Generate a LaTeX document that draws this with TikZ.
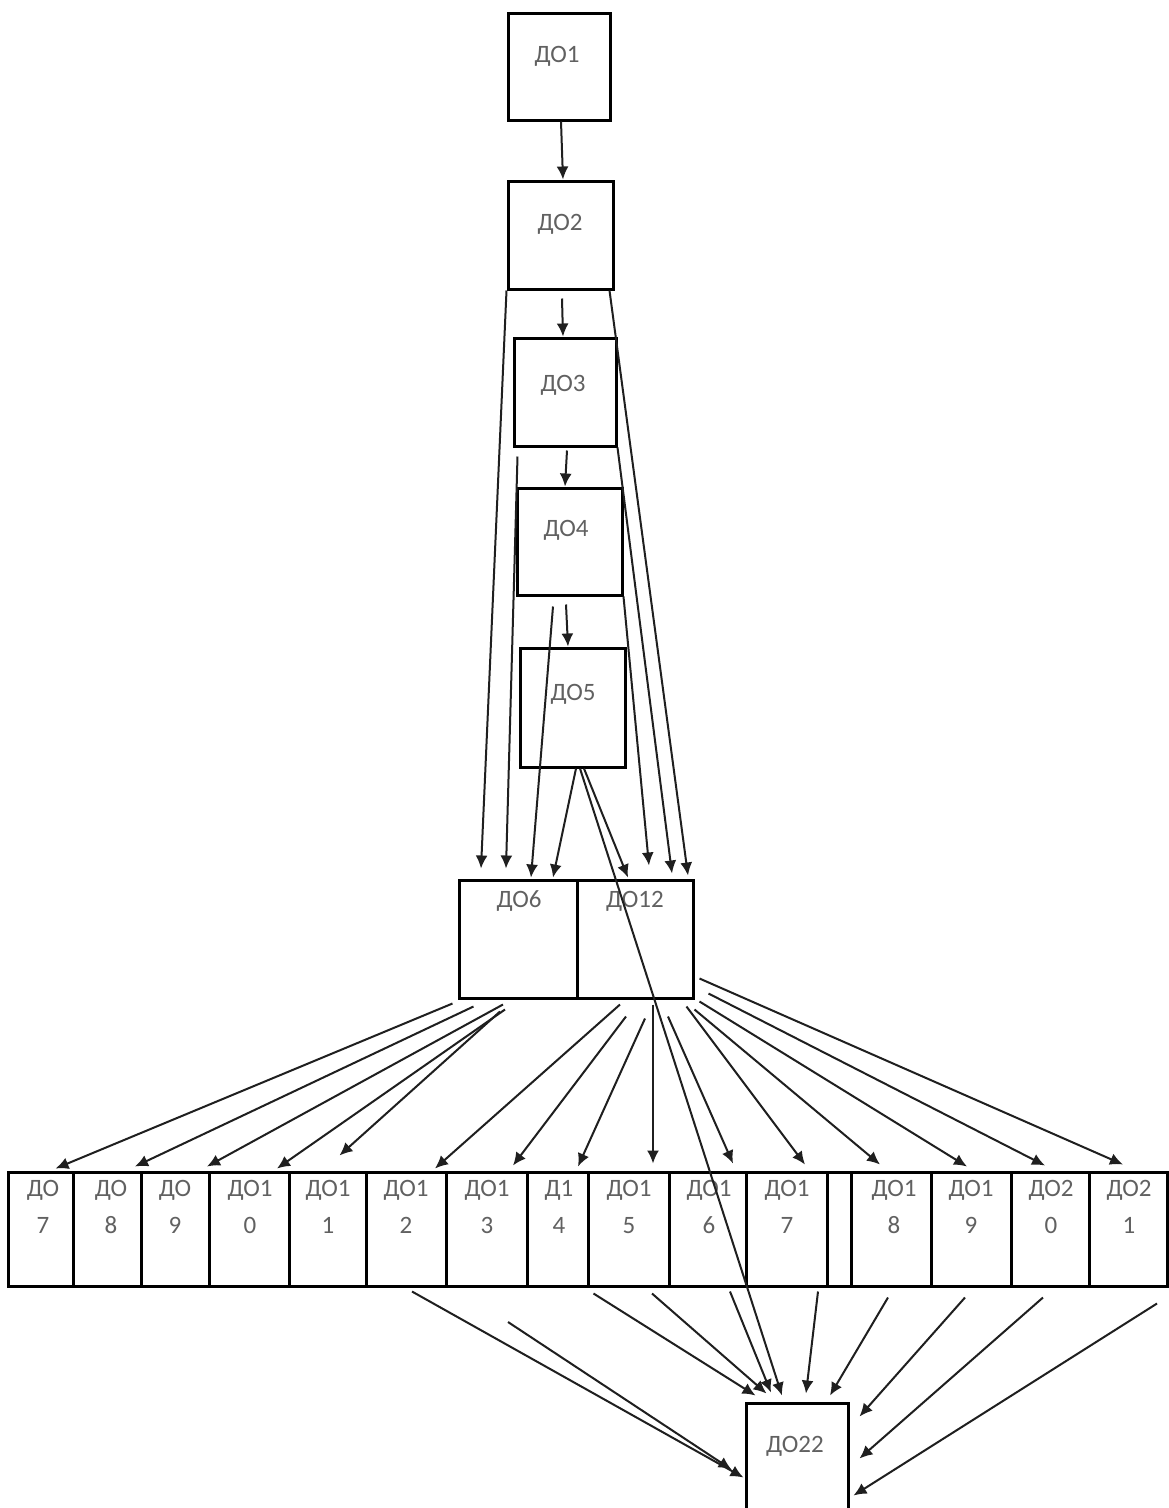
\documentclass[tikz,border=0pt]{standalone}
\usepackage{fontspec}
\setmainfont{Carlito}
\usetikzlibrary{arrows.meta}
\begin{document}
\begin{tikzpicture}[x=1pt,y=-1pt,
  bx/.style={draw=black, line width=3pt, rectangle, inner sep=0pt},
  lbl/.style={text=black!62, font=\fontsize{25}{37}\selectfont, inner sep=0pt, align=center},
  arr/.style={draw=black!88, line width=2pt, -{Latex[length=13pt,width=12pt]}}]
\clip (0,0) rectangle (1169,1508);
\fill[white] (0,0) rectangle (1169,1508);
% top chain
\node[bx, minimum width=102pt, minimum height=107pt] (d1) at (559,66.5) {};
\node[bx, minimum width=105pt, minimum height=108pt] (d2) at (560.5,235) {};
\node[bx, minimum width=102pt, minimum height=108pt] (d3) at (565,392) {};
\node[bx, minimum width=105pt, minimum height=107pt] (d4) at (569.5,541.5) {};
\node[bx, minimum width=105pt, minimum height=119pt] (d5) at (572.5,707.5) {};
\node[bx, minimum width=118pt, minimum height=118pt] (d6) at (518,939) {};
\node[bx, minimum width=116pt, minimum height=118pt] (d12) at (635,939) {};
\node[bx, minimum width=102pt, minimum height=137pt] (d22) at (797,1471.5) {};
% bottom row
\foreach \n/\cx/\w in {b7/40.5/65, b8/107/68, b9/175/68, b10/249/80, b11/327.5/77, b12/406/80, b13/486.5/81, b14/557.5/61, b15/628.5/81, b16/707.5/77, b17/786.5/81, be/839/24, b18/891/80, b19/971/80, b20/1050/78, b21/1128/78}
  {\node[bx, minimum width=\w pt, minimum height=114pt] (\n) at (\cx,1229) {};}
% labels
\node[lbl] (t1) at (557,56) {ДО1};
\node[lbl] (t2) at (560,224) {ДО2};
\node[lbl] (t3) at (563,385) {ДО3};
\node[lbl] (t4) at (566,530) {ДО4};
\node[lbl] (t5) at (573,694) {ДО5};
\node[lbl] (t6) at (519,901) {ДО6};
\node[lbl] (t12) at (635,901) {ДО12};
\node[lbl] (t22) at (795,1446) {ДО22};
\node[lbl] (l7) at (43,1207) {ДО\\7};
\node[lbl] (l8) at (111,1207) {ДО\\8};
\node[lbl] (l9) at (175,1207) {ДО\\9};
\node[lbl] (l10) at (250,1207) {ДО1\\0};
\node[lbl] (l11) at (328,1207) {ДО1\\1};
\node[lbl] (l12) at (406,1207) {ДО1\\2};
\node[lbl] (l13) at (487,1207) {ДО1\\3};
\node[lbl] (l14) at (559,1207) {Д1\\4};
\node[lbl] (l15) at (629,1207) {ДО1\\5};
\node[lbl] (l16) at (709,1207) {ДО1\\6};
\node[lbl] (l17) at (787,1207) {ДО1\\7};
\node[lbl] (l18) at (894,1207) {ДО1\\8};
\node[lbl] (l19) at (971,1207) {ДО1\\9};
\node[lbl] (l20) at (1051,1207) {ДО2\\0};
\node[lbl] (l21) at (1129,1207) {ДО2\\1};
% chain arrows
\draw[arr] ([xshift=2pt]d1.south) -- ([xshift=2.5pt]d2.north);
\draw[arr] ([xshift=1.5pt,yshift=-8pt]d2.south) -- ([xshift=-2pt]d3.north);
\draw[arr] ([xshift=2pt,yshift=-3pt]d3.south) -- ([xshift=-4.5pt]d4.north);
\draw[arr] ([xshift=-3.5pt,yshift=-8pt]d4.south) -- ([xshift=-4.5pt]d5.north);
% into DO6
\draw[arr] (d2.south west) -- ([xshift=-37pt,yshift=10pt]d6.north);
\draw[arr] ([xshift=5pt,yshift=-9pt]d3.south west) -- ([xshift=-12pt,yshift=10pt]d6.north);
\draw[arr] ([xshift=-16.5pt,yshift=-10pt]d4.south) -- ([xshift=13pt,yshift=1pt]d6.north);
\draw[arr] ([xshift=3.5pt]d5.south) -- ([xshift=35pt,yshift=1pt]d6.north);
% into DO12
\draw[arr] ([xshift=11.5pt]d5.south) -- ([xshift=-7pt,yshift=1pt]d12.north);
\draw[arr] (d4.south east) -- ([xshift=14pt,yshift=13pt]d12.north);
\draw[arr] (d3.south east) -- ([xshift=37pt,yshift=5pt]d12.north);
\draw[arr] ([xshift=-5pt]d2.south east) -- ([xshift=53pt,yshift=3pt]d12.north);
% long DO5 -> DO22
\draw[arr] ([xshift=7.5pt]d5.south) -- ([xshift=-15pt,yshift=6pt]d22.north);
% fan from DO6
\draw[arr] ([xshift=-5pt,yshift=-4pt]d6.south west) -- ([xshift=15pt,yshift=2pt]b7.north);
\draw[arr] ([xshift=16pt,yshift=-7pt]d6.south west) -- ([xshift=28pt,yshift=4pt]b8.north);
\draw[arr] ([xshift=-15pt,yshift=-5pt]d6.south) -- ([xshift=32pt,yshift=4pt]b9.north);
\draw[arr] ([xshift=-13pt,yshift=-10pt]d6.south) -- ([xshift=28pt,yshift=2pt]b10.north);
\draw[arr] ([xshift=-18pt,yshift=-12pt]d6.south) -- ([xshift=12pt,yshift=15pt]b11.north);
% fan from DO12
\draw[arr] ([xshift=-15pt,yshift=-5pt]d12.south) -- ([xshift=29pt,yshift=2pt]b12.north);
\draw[arr] ([xshift=-9pt,yshift=-17pt]d12.south) -- ([xshift=26.5pt,yshift=5pt]b13.north);
\draw[arr] ([xshift=10pt,yshift=-19pt]d12.south) -- ([xshift=20.5pt,yshift=4pt]b14.north);
\draw[arr] ([xshift=18pt,yshift=-5pt]d12.south) -- ([xshift=24.5pt,yshift=7pt]b15.north);
\draw[arr] ([xshift=33pt,yshift=-17pt]d12.south) -- ([xshift=25.5pt,yshift=7pt]b16.north);
\draw[arr] ([xshift=-8pt,yshift=-7pt]d12.south east) -- ([xshift=18.5pt,yshift=6pt]b17.north);
\draw[arr] ([yshift=-10pt]d12.south east) -- ([xshift=-11pt,yshift=6pt]b18.north);
\draw[arr] ([xshift=5pt,yshift=-2pt]d12.south east) -- ([xshift=-4pt,yshift=4pt]b19.north);
\draw[arr] ([xshift=14pt,yshift=6pt]d12.south east) -- ([xshift=-5pt,yshift=5pt]b20.north);
\draw[arr] ([xshift=5pt,yshift=21pt]d12.south east) -- ([xshift=-5pt,yshift=6pt]b21.north);
% into DO22
\coordinate (f1) at (508,1322);
\draw[arr] ([xshift=6pt,yshift=-4pt]b12.south) -- ([xshift=-1pt,yshift=-76pt]d22.north west);
\draw[arr] (f1) -- ([xshift=-13pt,yshift=-68pt]d22.north west);
\draw[arr] ([xshift=4pt,yshift=-6pt]b14.south east) -- ([xshift=11pt,yshift=6pt]d22.north west);
\draw[arr] ([xshift=23.5pt,yshift=-6pt]b15.south) -- ([xshift=22pt,yshift=8pt]d22.north west);
\draw[arr] ([xshift=22.5pt,yshift=-4pt]b16.south) -- ([xshift=-26pt,yshift=9pt]d22.north);
\draw[arr] ([xshift=31.5pt,yshift=-4pt]b17.south) -- ([xshift=9pt,yshift=8pt]d22.north);
\draw[arr] ([xshift=-3pt,yshift=-10pt]b18.south) -- ([xshift=33pt,yshift=6pt]d22.north);
\draw[arr] ([xshift=-6pt,yshift=-10pt]b19.south) -- ([xshift=10pt,yshift=-15pt]d22.north east);
\draw[arr] ([xshift=-7pt,yshift=-10pt]b20.south) -- ([xshift=10pt,yshift=-57pt]d22.north east);
\draw[arr] ([xshift=29pt,yshift=-16pt]b21.south) -- ([xshift=4pt,yshift=-94pt]d22.north east);
\end{tikzpicture}
\end{document}
